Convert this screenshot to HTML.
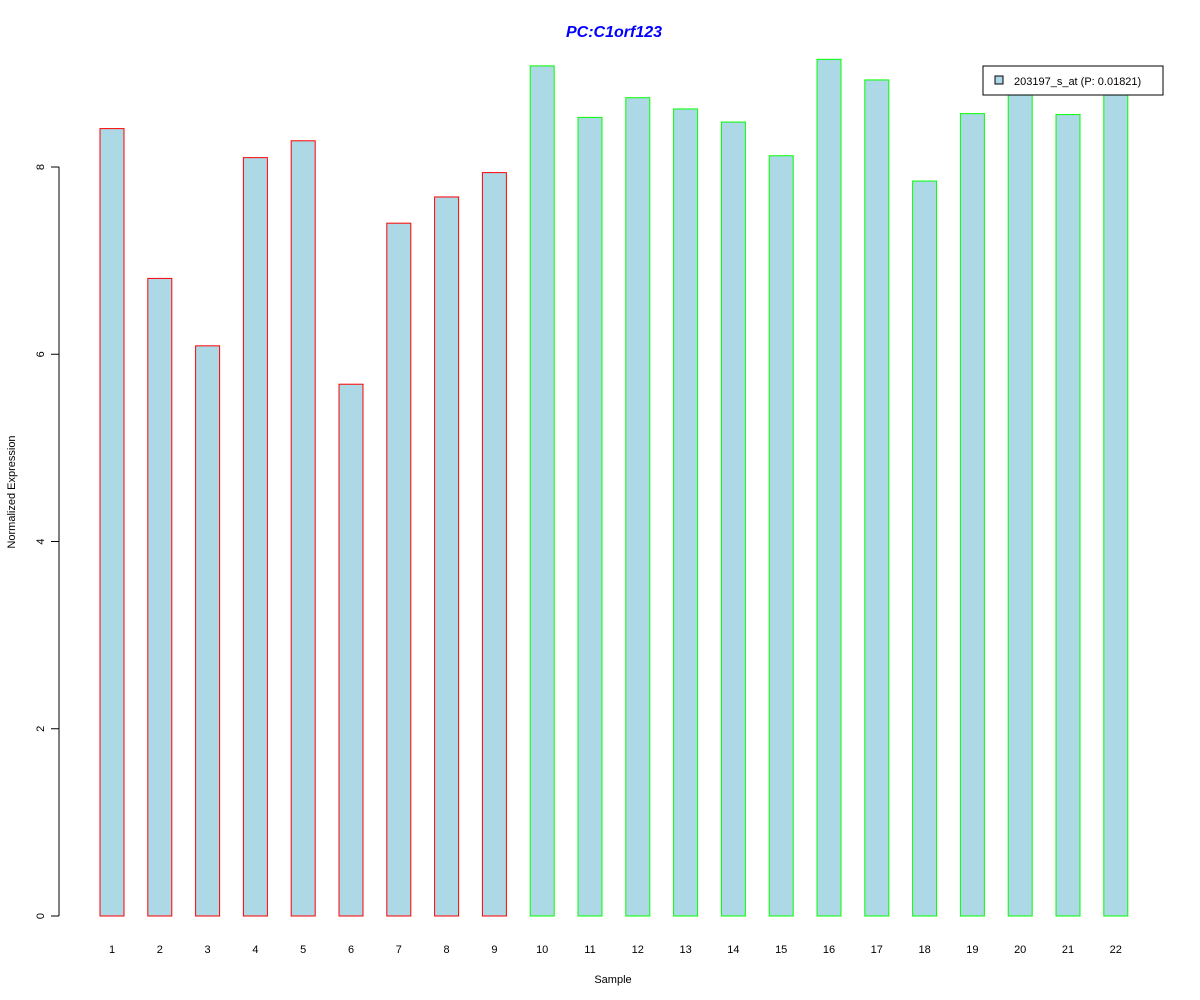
<!DOCTYPE html>
<html><head><meta charset="utf-8"><style>body{margin:0;background:#fff}svg{display:block;font-family:"Liberation Sans",Arial,sans-serif}</style></head>
<body>
<svg width="1200" height="1000">
<text x="614" y="37" text-anchor="middle" font-size="16" font-weight="bold" font-style="italic" fill="#0000ff">PC:C1orf123</text>
<g id="yaxis"></g>
<g id="bars"></g>
<g id="xlabels"></g>
<text x="613" y="983" text-anchor="middle" font-size="11">Sample</text>
<text transform="translate(15,492) rotate(-90)" text-anchor="middle" font-size="11">Normalized Expression</text>
<g>
<rect x="983" y="66" width="180" height="29" fill="#fff" stroke="#000"/>
<rect x="995" y="76" width="8" height="8" fill="#add8e6" stroke="#000"/>
<text x="1014" y="85" font-size="11">203197_s_at (P: 0.01821)</text>
</g>
</svg>
<script>
const samples=["1","2","3","4","5","6","7","8","9","10","11","12","13","14","15","16","17","18","19","20","21","22"];
const values=[8.41,6.81,6.09,8.10,8.28,5.68,7.40,7.68,7.94,9.08,8.53,8.74,8.62,8.48,8.12,9.15,8.93,7.85,8.57,8.85,8.56,8.82];
const groups=["a","a","a","a","a","a","a","a","a","b","b","b","b","b","b","b","b","b","b","b","b","b"];
const yTicks=[0,2,4,6,8];
const NS="http://www.w3.org/2000/svg";
const y=v=>916-v*93.625;
const xc=i=>112+i*47.8;
const ya=document.getElementById('yaxis');
function mk(t,a,p){const e=document.createElementNS(NS,t);for(const k in a)e.setAttribute(k,a[k]);p.appendChild(e);return e;}
const axl=mk('line',{x1:59,x2:59,y1:y(0),y2:y(yTicks[yTicks.length-1]),stroke:'#000'},ya);


yTicks.forEach(v=>{
  const tk=mk('line',{x1:51,x2:59,y1:y(v),y2:y(v),stroke:'#000'},ya);
  
  
  const t=mk('text',{transform:`translate(44,${y(v)}) rotate(-90)`,'text-anchor':'middle','font-size':11},ya);
  t.textContent=v;
  
  
});
const bg=document.getElementById('bars'),xl=document.getElementById('xlabels');
values.forEach((v,i)=>{
  const r=mk('rect',{x:xc(i)-12,y:y(v),width:24,height:y(0)-y(v),fill:'#add8e6',stroke:groups[i]==='a'?'#ff0000':'#00ff00'},bg);
  
  
  const t=mk('text',{x:xc(i),y:953,'text-anchor':'middle','font-size':11},xl);
  t.textContent=samples[i];
  
  
});
</script>
</body></html>
